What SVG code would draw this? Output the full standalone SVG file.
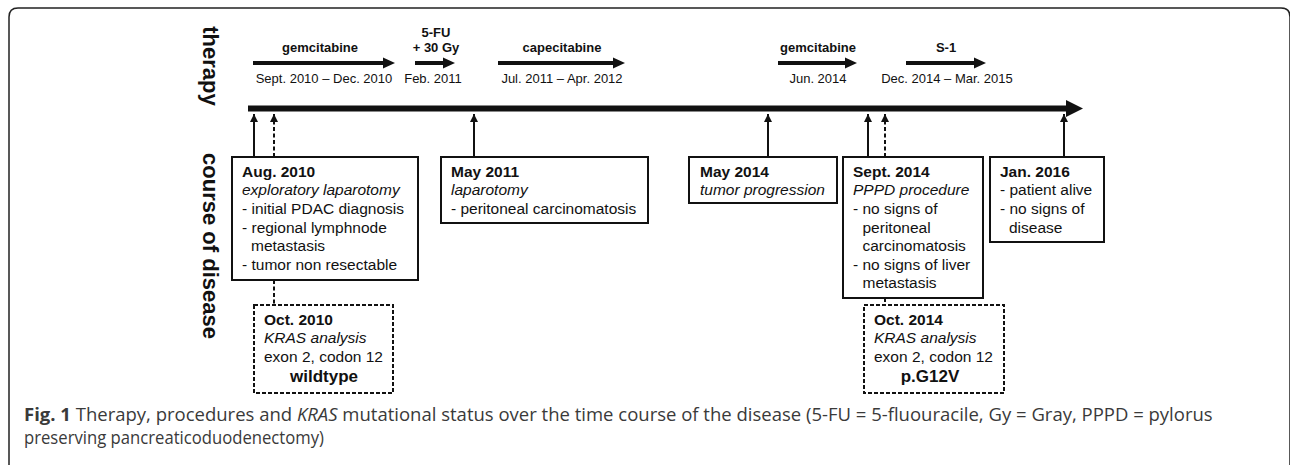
<svg xmlns="http://www.w3.org/2000/svg" width="1290" height="465" viewBox="0 0 1290 465">
<style>
.t{font-family:"Liberation Sans",Arial,sans-serif;fill:#111;font-size:15.5px}
.b{font-weight:bold}
.i{font-style:italic}
.th{font-family:"Liberation Sans",Arial,sans-serif;fill:#111;font-size:13px;text-anchor:middle}
.box{fill:#fff;stroke:#111;stroke-width:2}
.dbox{fill:#fff;stroke:#111;stroke-width:2;stroke-dasharray:4 2}
.con{stroke:#111;stroke-width:2;fill:none}
.dash{stroke-dasharray:4 2.5}
.ax{font-family:"Liberation Sans",Arial,sans-serif;font-weight:bold;font-size:22px;fill:#111;text-anchor:middle}
.cap{font-family:"Open Sans","Liberation Sans",sans-serif;fill:#3a3a3a;font-size:18.5px}
</style>
<defs>
<marker id="ah" markerUnits="userSpaceOnUse" markerWidth="8" markerHeight="8" refX="8" refY="4" orient="auto">
<path d="M0,0 L8,4 L0,8 z" fill="#111"/>
</marker>
</defs>
<path d="M9,480 L9,17 Q9,8 18,8 L1281,8 Q1290,8 1290,17 L1290,480" fill="none" stroke="#222" stroke-width="1.5"/>

<text class="ax" transform="translate(203,66) rotate(90)">therapy</text>
<text class="ax" transform="translate(203,246) rotate(90)">course of disease</text>

<g id="timeline">
<rect x="248" y="105.5" width="820" height="6" fill="#111"/>
<polygon points="1066,100 1083,108.5 1066,117" fill="#111"/>
</g>

<g id="therapy-gem1">
<text class="th b" x="320" y="52">gemcitabine</text>
<rect x="253" y="61" width="131" height="4" fill="#111"/>
<polygon points="383,57.5 395,63 383,68.5" fill="#111"/>
<text class="th" x="324" y="83">Sept. 2010 – Dec. 2010</text>
</g>
<g id="therapy-5fu">
<text class="th b" x="436" y="37">5-FU</text>
<text class="th b" x="436" y="52">+ 30 Gy</text>
<rect x="415" y="61" width="29" height="4" fill="#111"/>
<polygon points="443,57.5 455,63 443,68.5" fill="#111"/>
<text class="th" x="433" y="83">Feb. 2011</text>
</g>
<g id="therapy-cape">
<text class="th b" x="562" y="52">capecitabine</text>
<rect x="498" y="61" width="116" height="4" fill="#111"/>
<polygon points="613,57.5 625,63 613,68.5" fill="#111"/>
<text class="th" x="562" y="83">Jul. 2011 – Apr. 2012</text>
</g>
<g id="therapy-gem2">
<text class="th b" x="818" y="52">gemcitabine</text>
<rect x="778" y="61" width="68" height="4" fill="#111"/>
<polygon points="845,57.5 857,63 845,68.5" fill="#111"/>
<text class="th" x="818" y="83">Jun. 2014</text>
</g>
<g id="therapy-s1">
<text class="th b" x="946" y="52">S-1</text>
<rect x="906" y="61" width="69" height="4" fill="#111"/>
<polygon points="974,57.5 986,63 974,68.5" fill="#111"/>
<text class="th" x="947" y="83">Dec. 2014 – Mar. 2015</text>
</g>

<g id="connectors">
<line class="con" x1="254" y1="157" x2="254" y2="114" marker-end="url(#ah)"/>
<line class="con dash" x1="274" y1="157" x2="274" y2="114" marker-end="url(#ah)"/>
<line class="con" x1="474" y1="157" x2="474" y2="114" marker-end="url(#ah)"/>
<line class="con" x1="768" y1="157" x2="768" y2="114" marker-end="url(#ah)"/>
<line class="con" x1="868" y1="157" x2="868" y2="114" marker-end="url(#ah)"/>
<line class="con dash" x1="885" y1="157" x2="885" y2="114" marker-end="url(#ah)"/>
<line class="con" x1="1064" y1="157" x2="1064" y2="114" marker-end="url(#ah)"/>
<line class="con dash" x1="274" y1="280" x2="274" y2="305"/>
<line class="con dash" x1="885" y1="298" x2="885" y2="305"/>
</g>

<g id="aug2010">
<rect class="box" x="232" y="157" width="186" height="123"/>
<text class="t b" x="242" y="176.7">Aug. 2010</text>
<text class="t i" x="242" y="195">exploratory laparotomy</text>
<text class="t" x="242" y="214">- initial PDAC diagnosis</text>
<text class="t" x="242" y="232.7">- regional lymphnode</text>
<text class="t" x="251" y="251">metastasis</text>
<text class="t" x="242" y="270">- tumor non resectable</text>
</g>

<g id="oct2010">
<rect class="dbox" x="254" y="305" width="139" height="88"/>
<text class="t b" x="264" y="325">Oct. 2010</text>
<text class="t i" x="264" y="343.3">KRAS analysis</text>
<text class="t" x="264" y="361.7">exon 2, codon 12</text>
<text class="t b" x="324" y="381.7" style="font-size:17px" text-anchor="middle">wildtype</text>
</g>

<g id="may2011">
<rect class="box" x="441" y="157" width="207" height="66"/>
<text class="t b" x="451" y="176.7">May 2011</text>
<text class="t i" x="451" y="195">laparotomy</text>
<text class="t" x="451" y="214">- peritoneal carcinomatosis</text>
</g>

<g id="may2014">
<rect class="box" x="689" y="157" width="148" height="46"/>
<text class="t b" x="700" y="176.7">May 2014</text>
<text class="t i" x="700" y="195">tumor progression</text>
</g>

<g id="sept2014">
<rect class="box" x="843" y="157" width="140" height="141"/>
<text class="t b" x="853" y="176.7">Sept. 2014</text>
<text class="t i" x="853" y="195">PPPD procedure</text>
<text class="t" x="853" y="214">- no signs of</text>
<text class="t" x="862.5" y="232.7">peritoneal</text>
<text class="t" x="862.5" y="251">carcinomatosis</text>
<text class="t" x="853" y="270">- no signs of liver</text>
<text class="t" x="862.5" y="288">metastasis</text>
</g>

<g id="oct2014">
<rect class="dbox" x="864" y="305" width="140" height="88"/>
<text class="t b" x="874" y="324.5">Oct. 2014</text>
<text class="t i" x="874" y="343">KRAS analysis</text>
<text class="t" x="874" y="361.7">exon 2, codon 12</text>
<text class="t b" x="930" y="381.7" style="font-size:17px" text-anchor="middle">p.G12V</text>
</g>

<g id="jan2016">
<rect class="box" x="990" y="157" width="114" height="85"/>
<text class="t b" x="1000" y="176.7">Jan. 2016</text>
<text class="t" x="1000" y="195">- patient alive</text>
<text class="t" x="1000" y="214">- no signs of</text>
<text class="t" x="1009" y="232.7">disease</text>
</g>

<g id="caption">
<text class="cap" x="24" y="421"><tspan font-weight="bold">Fig. 1</tspan> Therapy, procedures and <tspan font-style="italic">KRAS</tspan> mutational status over the time course of the disease (5-FU = 5-fluouracile, Gy = Gray, PPPD = pylorus</text>
<text class="cap" x="24" y="444" textLength="300" lengthAdjust="spacingAndGlyphs">preserving pancreaticoduodenectomy)</text>
</g>
</svg>
